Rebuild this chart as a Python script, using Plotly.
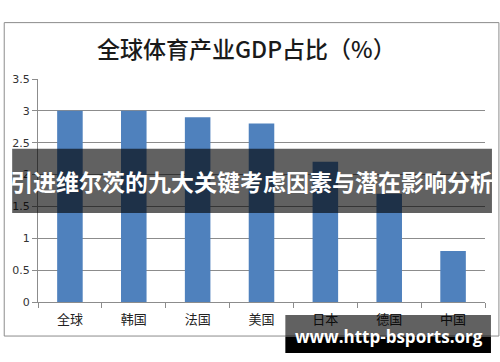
import plotly.graph_objects as go

categories = ["全球", "韩国", "法国", "美国", "日本", "德国", "中国"]
values = [3.0, 3.0, 2.9, 2.8, 2.2, 1.7, 0.8]
y_ticks = [0, 0.5, 1, 1.5, 2, 2.5, 3, 3.5]
y_tick_labels = ["0", "0.5", "1", "1.5", "2", "2.5", "3", "3.5"]
title_text = "全球体育产业GDP占比（%）"
banner_text = "引进维尔茨的九大关键考虑因素与潜在影响分析"
watermark_text = "www.http-bsports.org"

W, H = 500, 362
L, R, T, B = 35, 485, 79.3, 302

def px(x):
    return (x - L) / (R - L)

def py(y):
    return (B - y) / (B - T)

fig = go.Figure(go.Bar(
    x=categories, y=values, marker_color="#4F81BD", marker_line_width=0,
))

shapes = [
    dict(type="rect", xref="paper", yref="paper", x0=px(1), x1=px(499), y0=py(336), y1=py(23),
         line=dict(color="#8c8c8c", width=1), fillcolor="rgba(0,0,0,0)", layer="below"),
    dict(type="rect", xref="paper", yref="paper", x0=px(9), x1=px(492), y0=py(213), y1=py(149),
         line=dict(width=0), fillcolor="rgba(0,0,0,0.62)", layer="above"),
    dict(type="rect", xref="paper", yref="paper", x0=px(284), x1=px(491), y0=py(337), y1=py(315),
         line=dict(width=0), fillcolor="rgba(0,0,0,0.62)", layer="above"),
    dict(type="rect", xref="paper", yref="paper", x0=px(284), x1=px(491), y0=py(353), y1=py(337),
         line=dict(width=0), fillcolor="#000000", layer="above"),
]

annotations = [
    dict(text=title_text, xref="paper", yref="paper", x=px(245), y=py(48), showarrow=False,
         font=dict(family="Noto Sans CJK SC", size=23, color="#1a1a1a", weight=500),
         xanchor="center", yanchor="middle"),
    dict(text="<b>" + banner_text + "</b>", xref="paper", yref="paper", x=px(250), y=py(181), showarrow=False,
         font=dict(family="Noto Sans CJK SC", size=23, color="#ffffff"), xanchor="center", yanchor="middle"),
    dict(text="<b>" + watermark_text + "</b>", xref="paper", yref="paper", x=px(388), y=py(336), showarrow=False,
         font=dict(family="Open Sans", size=17, color="#ffffff"), xanchor="center", yanchor="middle"),
]

fig.update_layout(
    width=W, height=H,
    margin=dict(l=L, r=W - R, t=T, b=H - B, pad=0),
    paper_bgcolor="white", plot_bgcolor="white",
    bargap=0.6, showlegend=False,
    shapes=shapes, annotations=annotations,
    font=dict(family="Noto Sans CJK SC", color="#333333"),
)
fig.update_yaxes(range=[0, 3.5], tickvals=y_ticks, ticktext=y_tick_labels,
                 showgrid=True, gridcolor="#8c8c8c", gridwidth=1,
                 showline=True, linecolor="#8c8c8c", linewidth=1,
                 ticks="outside", ticklen=5, tickcolor="#8c8c8c",
                 tickfont=dict(family="DejaVu Sans", size=11, color="#333333"),
                 zeroline=False, fixedrange=True)
fig.update_xaxes(showline=True, linecolor="#8c8c8c", linewidth=1,
                 ticks="outside", tickson="boundaries", ticklen=5, tickcolor="#8c8c8c",
                 ticklabelstandoff=5,
                 tickfont=dict(family="Noto Sans CJK SC", size=13, color="#222222"),
                 fixedrange=True)

fig.write_html("out.html")
